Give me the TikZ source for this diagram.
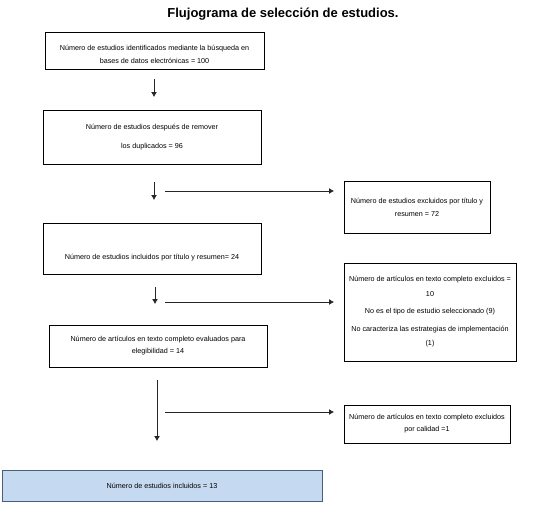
\documentclass[tikz,border=0pt]{standalone}
\usepackage{fontspec}
\setmainfont{Liberation Sans}
\usepackage{xcolor}
\usepackage{tikz}
\usetikzlibrary{arrows.meta}

\definecolor{incfill}{RGB}{197,217,240}
\definecolor{incdraw}{RGB}{70,95,125}

\begin{document}
\begin{tikzpicture}[x=1pt,y=-1pt,
  box/.style={draw, line width=0.7pt, align=center, inner sep=0pt,
    font=\fontsize{7.2}{13}\selectfont},
  arr/.style={line width=0.8pt, draw=black!85, -{Latex[length=5pt,width=6pt]}}]
\useasboundingbox (0,0) rectangle (536,514);
\node[font=\fontsize{13}{15}\selectfont\bfseries] (title) at (283,14) {Flujograma de selección de estudios.};
% main column
\node[box, minimum width=219pt, minimum height=37pt] (ident) at (154.5,50.5)
  {\rule{0pt}{14pt}Número de estudios identificados mediante la búsqueda en\\bases de datos electrónicas = 100};
\node[box, minimum width=218pt, minimum height=54pt] (dupl) at (152,137)
  {Número de estudios después de remover\\[6pt]los duplicados = 96};
\node[box, minimum width=218pt, text height=36pt, text depth=15pt] (tires) at (152,248.5)
  {Número de estudios incluidos por título y resumen= 24};
\node[box, minimum width=218pt, minimum height=42pt,
  font=\fontsize{7.2}{12}\selectfont] (eleg) at (158,346)
  {Número de artículos en texto completo evaluados para\\elegibilidad = 14};
\node[box, draw=incdraw, fill=incfill, minimum width=320pt, minimum height=31pt] (incl) at (162,485.5)
  {Número de estudios incluidos = 13};
% exclusions
\node[box, minimum width=146pt, minimum height=52pt] (excl1) at (417,207)
  {Número de estudios excluidos por título y\\resumen = 72};
\node[box, minimum width=172pt, minimum height=98pt,
  font=\fontsize{7.2}{14.5}\selectfont] (excl2) at (430,312)
  {Número de artículos en texto completo excluidos =\\10\\[3pt]No es el tipo de estudio seleccionado (9)\\[3pt]No caracteriza las estrategias de implementación\\(1)};
\node[box, minimum width=166pt, minimum height=38pt,
  font=\fontsize{7.2}{12}\selectfont] (excl3) at (427,424)
  {Número de artículos en texto completo excluidos\\por calidad =1};
% arrows
\coordinate (v1a) at (154,79);  \coordinate (v1b) at (154,97);
\coordinate (v2a) at (154,182); \coordinate (v2b) at (154,200);
\coordinate (v3a) at (155,287); \coordinate (v3b) at (155,304);
\coordinate (v4a) at (157,380); \coordinate (v4b) at (157,441);
\coordinate (h2a) at (165,191); \coordinate (h2b) at (334,191);
\coordinate (h3a) at (165,302); \coordinate (h3b) at (334,302);
\coordinate (h4a) at (165,412); \coordinate (h4b) at (334,412);
\foreach \s/\e in {v1a/v1b,v2a/v2b,v3a/v3b,v4a/v4b,h2a/h2b,h3a/h3b,h4a/h4b}
  \draw[arr] (\s) -- (\e);
\end{tikzpicture}
\end{document}
